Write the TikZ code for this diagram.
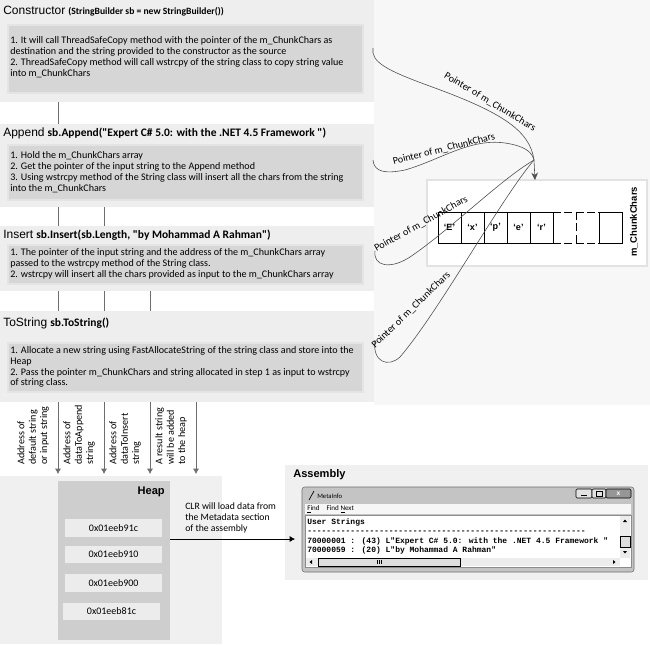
\documentclass[tikz,border=0pt]{standalone}
\usepackage{fontspec}
\setmainfont{Carlito}[Ligatures=TeXOff]
\newfontfamily\arialfont{Liberation Sans}
\newfontfamily\consfont[Ligatures=TeXOff]{Liberation Mono}
\usetikzlibrary{arrows.meta}

\newcommand{\headfont}{\arialfont\fontsize{9}{11}\selectfont}
\newcommand{\codefont}{\bfseries\fontsize{8.6}{10}\selectfont}

\tikzset{
  sectpanel/.style={fill={rgb, 255:red, 238; green, 238; blue, 238 }},
  infobox/.style={fill={rgb, 255:red, 214; green, 214; blue, 214 }, draw={rgb, 255:red, 228; green, 228; blue, 228 }, line width=1.2},
  headtxt/.style={anchor=west, inner sep=0.75pt},
  bodytxt/.style={anchor=west, inner sep=0.75pt, align=left, font=\fontsize{7.55}{8.1}\selectfont},
  flowline/.style={draw={rgb, 255:red, 110; green, 110; blue, 110 }, line width=0.5, -{Latex[length=4pt, width=4.5pt]}},
  vlabel/.style={rotate=90, anchor=north west, align=left, inner sep=0.75pt, font=\fontsize{7.6}{8.6}\selectfont},
  ptrline/.style={draw={rgb, 255:red, 80; green, 80; blue, 80 }, line width=0.45},
  ptrtxt/.style={inner sep=0.75pt, font=\fontsize{7.6}{8.5}\selectfont},
  cell/.style={draw, line width=0.75},
  celltxt/.style={inner sep=0.75pt, font=\arialfont\bfseries\fontsize{6.8}{8}\selectfont},
  addrbox/.style={fill={rgb, 255:red, 236; green, 236; blue, 236 }},
  addrtxt/.style={inner sep=0.75pt, font=\fontsize{7.5}{9}\selectfont},
  constxt/.style={anchor=west, inner sep=0.75pt, font=\consfont\bfseries\fontsize{6}{7}\selectfont},
}

\begin{document}
\begin{tikzpicture}[x=0.75pt,y=0.75pt,yscale=-1,xscale=1]
\useasboundingbox (0,0) rectangle (650,644);

%Shape: Rectangle (right background)
\fill [fill={rgb, 255:red, 247; green, 247; blue, 247 }] (374,0) rectangle (650,405) ;

%Straight Lines (flow down to the heap)
\coordinate (ctorfoot) at (58,102) ;
\coordinate (appfoot) at (104,202) ;
\coordinate (insfoot) at (150,286) ;
\coordinate (tstrfoot) at (196,394) ;
\coordinate (heapin1) at (58,474) ;
\coordinate (heapin2) at (104,474) ;
\coordinate (heapin3) at (150,474) ;
\coordinate (heapin4) at (196,474) ;
\draw [flowline] (ctorfoot) -- (heapin1) ;
\draw [flowline] (appfoot) -- (heapin2) ;
\draw [flowline] (insfoot) -- (heapin3) ;
\draw [flowline] (tstrfoot) -- (heapin4) ;

%Shape: Rectangle (section panels)
\fill [sectpanel] (0,0) rectangle (374,102) ;
\fill [sectpanel] (0,124) rectangle (374,207) ;
\fill [sectpanel] (0,226) rectangle (374,291) ;
\fill [sectpanel] (0,311) rectangle (374,402) ;

%Shape: Rectangle (info boxes)
\draw [infobox] (8,25) rectangle (363,93) ;
\draw [infobox] (8,145) rectangle (363,200) ;
\draw [infobox] (8,245) rectangle (363,284) ;
\draw [infobox] (8,343) rectangle (363,392) ;

% Text Node
\node [headtxt] (ctorhead) at (2,11) {{\headfont Constructor} {\bfseries\fontsize{7.2}{9}\selectfont (StringBuilder sb = new StringBuilder())}};
% Text Node
\node [bodytxt] (ctortxt) at (9,57) {1. It will call ThreadSafeCopy method with the pointer of the m\_ChunkChars as\\destination and the string provided to the constructor as the source\\2. ThreadSafeCopy method will call wstrcpy of the string class to copy string value\\into m\_ChunkChars};
% Text Node
\node [headtxt] (apphead) at (2,133) {{\headfont Append} {\codefont sb.Append("Expert C\# 5.0: with the .NET 4.5 Framework ")}};
% Text Node
\node [bodytxt] (apptxt) at (9,172) {1. Hold the m\_ChunkChars array\\2. Get the pointer of the input string to the Append method\\3. Using wstrcpy method of the String class will insert all the chars from the string\\into the m\_ChunkChars};
% Text Node
\node [headtxt] (inshead) at (2,235) {{\headfont Insert} {\codefont sb.Insert(sb.Length, "by Mohammad A Rahman")}};
% Text Node
\node [bodytxt] (instxt) at (9,264) {1. The pointer of the input string and the address of the m\_ChunkChars array\\passed to the wstrcpy method of the String class.\\2. wstrcpy will insert all the chars provided as input to the m\_ChunkChars array};
% Text Node
\node [headtxt] (tstrhead) at (2,323) {{\headfont ToString} {\codefont sb.ToString()}};
% Text Node
\node [bodytxt] (tstrtxt) at (9,367) {1. Allocate a new string using FastAllocateString of the string class and store into the\\Heap\\2. Pass the pointer m\_ChunkChars and string allocated in step 1 as input to wstrcpy\\of string class.};

% Text Node (labels of the flow lines)
\node [vlabel] (lbldef) at (16,466) {Address of\\default string\\or input string};
\node [vlabel] (lblapp) at (62,466) {Address of\\dataToAppend\\string};
\node [vlabel] (lblins) at (108,466) {Address of\\dataToInsert\\string};
\node [vlabel] (lblres) at (154,466) {A result string\\will be added\\to the heap};

%Shape: Rectangle (m_ChunkChars panel)
\draw [draw={rgb, 255:red, 226; green, 226; blue, 226 }, fill=white, line width=1] (427,180) rectangle (647,266) ;
%Shape: Rectangle (cells)
\draw [cell] (438,212) rectangle (461,243) ;
\draw [cell] (461,212) rectangle (484,243) ;
\draw [cell] (484,212) rectangle (507,243) ;
\draw [cell] (507,212) rectangle (530,243) ;
\draw [cell] (530,212) rectangle (553,243) ;
\draw [line width=0.75, dash pattern=on 6pt off 2.5pt] (553,212) -- (599,212) ;
\draw [line width=0.75, dash pattern=on 6pt off 2.5pt] (553,243) -- (599,243) ;
\draw [line width=0.75, dash pattern=on 6pt off 2.5pt] (576,212) -- (576,243) ;
\draw [cell] (599,212) rectangle (622,243) ;
% Text Node
\node [celltxt] (cellE) at (449.5,227.5) {‘E’};
\node [celltxt] (cellx) at (472.5,227.5) {‘x’};
\node [celltxt] (cellp) at (495.5,227.5) {‘p’};
\node [celltxt] (celle) at (518.5,227.5) {‘e’};
\node [celltxt] (cellr) at (541.5,227.5) {‘r’};
% Text Node
\node [rotate=90, inner sep=0.75pt, font=\arialfont\bfseries\fontsize{7.1}{8}\selectfont] (chunklbl) at (634,222) {m\_ChunkChars};

%Curve Lines (pointers of m_ChunkChars)
\coordinate (ctorout) at (373,48) ;
\coordinate (appout) at (373,160) ;
\coordinate (insout) at (375,251) ;
\coordinate (tstrout) at (375,340) ;
\coordinate (hub) at (534,160) ;
\coordinate (tip) at (535,180) ;
\draw [ptrline] (ctorout) .. controls (371,62) and (385,70) .. (435,88) .. controls (500,112) and (530,130) .. (hub) ;
\draw [ptrline] (appout) .. controls (374,172) and (385,174) .. (405,170) .. controls (440,160) and (470,138) .. (505,143) .. controls (525,146) and (532,152) .. (hub) ;
\draw [ptrline] (insout) .. controls (373,266) and (390,270) .. (410,257) .. controls (450,230) and (500,180) .. (hub) ;
\draw [ptrline] (tstrout) .. controls (372,362) and (388,368) .. (400,357) .. controls (440,310) and (500,200) .. (hub) ;
\draw [ptrline, -{Stealth[length=5.5pt, width=5pt]}] (hub) -- (tip) ;
% Text Node
\node [ptrtxt, rotate=-31] (ptrlbl1) at (490,102) {Pointer of m\_ChunkChars};
\node [ptrtxt, rotate=14] (ptrlbl2) at (444,149) {Pointer of m\_ChunkChars};
\node [ptrtxt, rotate=29] (ptrlbl3) at (421,224) {Pointer of m\_ChunkChars};
\node [ptrtxt, rotate=44] (ptrlbl4) at (411,310) {Pointer of m\_ChunkChars};

%Shape: Rectangle (heap)
\fill [fill={rgb, 255:red, 240; green, 240; blue, 240 }] (0,476) rectangle (222,644) ;
\fill [fill={rgb, 255:red, 206; green, 206; blue, 206 }] (58,481) rectangle (170,640) ;
% Text Node
\node [anchor=east, inner sep=0.75pt, font=\arialfont\bfseries\fontsize{8.3}{10}\selectfont] (heaphead) at (166,492) {Heap};
%Shape: Rectangle (addresses)
\fill [addrbox] (65,519) rectangle (162,537) ;
\fill [addrbox] (65,546) rectangle (162,563) ;
\fill [addrbox] (65,574) rectangle (162,592) ;
\fill [addrbox] (63,603) rectangle (160,620) ;
% Text Node
\node [addrtxt] (addr1) at (113.5,528) {0x01eeb91c};
\node [addrtxt] (addr2) at (113.5,554.5) {0x01eeb910};
\node [addrtxt] (addr3) at (113.5,583) {0x01eeb900};
\node [addrtxt] (addr4) at (111.5,611.5) {0x01eeb81c};
% Text Node
\node [anchor=north west, inner sep=0.75pt, align=left, font=\fontsize{7.3}{8.25}\selectfont] (clrtxt) at (184,501) {CLR will load data from\\the Metadata section\\of the assembly};

%Shape: Rectangle (assembly)
\fill [fill={rgb, 255:red, 240; green, 240; blue, 240 }] (285,465) rectangle (648,580) ;
% Text Node
\node [headtxt, font=\arialfont\bfseries\fontsize{8.3}{10}\selectfont] (asmhead) at (292,475) {Assembly};

%Straight Lines (heap to assembly)
\coordinate (heapout) at (170,539) ;
\coordinate (asmin) at (295,539) ;
\draw [-{Latex[length=4pt, width=4.5pt]}, line width=0.5] (heapout) -- (asmin) ;

%Shape: Rectangle (MetaInfo window)
\draw [draw={rgb, 255:red, 110; green, 110; blue, 110 }, fill={rgb, 255:red, 196; green, 196; blue, 196 }, rounded corners=2] (302,487) rectangle (634,572) ;
\draw [line width=0.5] (309,500) -- (314,491) ;
\node [anchor=west, inner sep=0.75pt, font=\fontsize{5}{6}\selectfont] (wintitle) at (316,496) {MetaInfo};
\draw [fill={rgb, 255:red, 226; green, 226; blue, 226 }, rounded corners=1, line width=0.4] (576,489) rectangle (592,498) ;
\draw [fill={rgb, 255:red, 226; green, 226; blue, 226 }, rounded corners=1, line width=0.4] (592,489) rectangle (606,498) ;
\draw [fill={rgb, 255:red, 150; green, 150; blue, 150 }, rounded corners=1, line width=0.4] (606,489) rectangle (631,498) ;
\draw [line width=0.6] (581,495.5) -- (587,495.5) ;
\draw [line width=0.4] (596,491.5) rectangle (602,496) ;
\node [inner sep=0, font=\arialfont\bfseries\fontsize{5}{6}\selectfont, white] (winclose) at (618.5,493.5) {x};
\fill [fill={rgb, 255:red, 246; green, 246; blue, 246 }] (305,504) rectangle (631,514) ;
\node [anchor=west, inner sep=0.75pt, font=\fontsize{5.3}{6}\selectfont] (winmenu) at (306,509) {\underline{F}ind\quad Find \underline{N}ext};
\draw [draw={rgb, 255:red, 140; green, 140; blue, 140 }, fill=white, line width=0.5] (305,515) rectangle (631,567) ;
\fill [fill={rgb, 255:red, 236; green, 236; blue, 236 }] (620,516) rectangle (630,558) ;
\draw [fill={rgb, 255:red, 222; green, 222; blue, 222 }, line width=0.3] (620,536) rectangle (630,547) ;
\fill (623,522) -- (627,522) -- (625,519.5) -- cycle ;
\fill (623,551) -- (627,551) -- (625,553.5) -- cycle ;
\fill [fill={rgb, 255:red, 236; green, 236; blue, 236 }] (306,558) rectangle (620,566) ;
\draw [fill={rgb, 255:red, 222; green, 222; blue, 222 }, line width=0.3] (318,558) rectangle (460,566) ;
\draw [line width=0.3] (377,560) -- (377,564) (379,560) -- (379,564) (381,560) -- (381,564) ;
\fill (312,560) -- (312,564) -- (309.5,562) -- cycle ;
\fill (613,560) -- (613,564) -- (615.5,562) -- cycle ;
% Text Node
\node [constxt] (ustrhead) at (306,522) {User Strings};
\node [constxt] (ustrrule) at (306,532) {----------------------------------------------------------};
\node [constxt] (ustr1) at (306,541) {70000001 : (43) L"Expert C\# 5.0: with the .NET 4.5 Framework "};
\node [constxt] (ustr2) at (306,550) {70000059 : (20) L"by Mohammad A Rahman"};
\end{tikzpicture}
\end{document}
